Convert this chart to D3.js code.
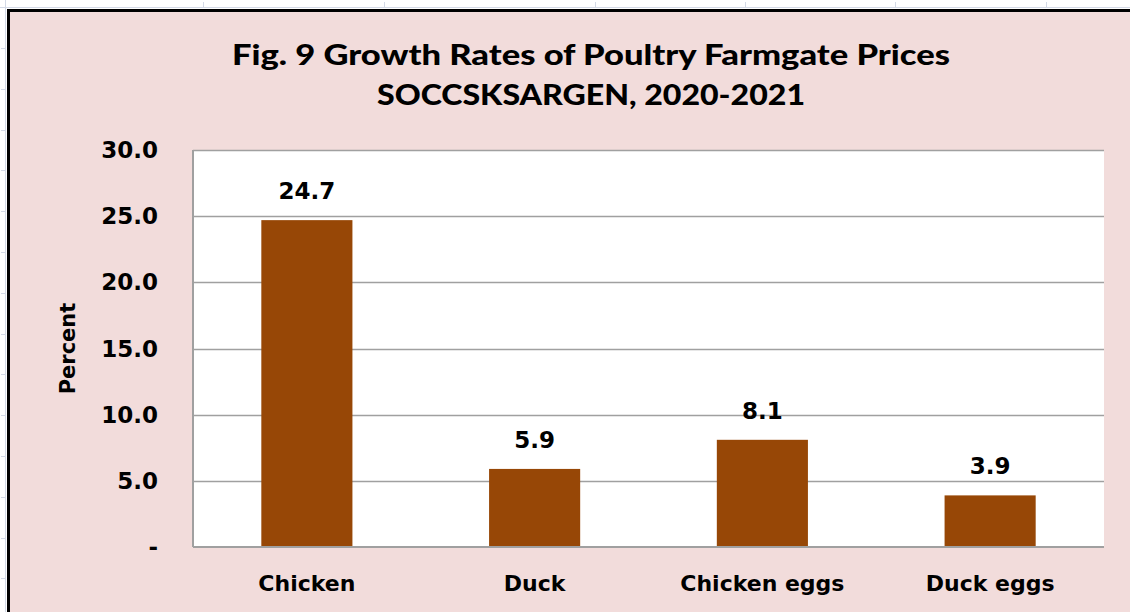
<!DOCTYPE html>
<html>
<head>
<meta charset="utf-8">
<script src="https://cdn.jsdelivr.net/npm/d3@7"></script>
<style>
  html, body { margin: 0; padding: 0; background: #fff; overflow: hidden; }
  text { font-family: "DejaVu Sans", sans-serif; font-weight: bold; fill: #000; }
</style>
</head>
<body>
<div id="chart"></div>
<script>
const categories = ['Chicken', 'Duck', 'Chicken eggs', 'Duck eggs'];
const growthRates = [24.7, 5.9, 8.1, 3.9];
const yTicks = [0, 5, 10, 15, 20, 25, 30];
const titleLines = ['Fig. 9 Growth Rates of Poultry Farmgate Prices', 'SOCCSKSARGEN, 2020-2021'];

const W = 1130, H = 612;
const plot = { left: 193, right: 1104, top: 150, bottom: 547 };
const titleWidths = [718, 428];

const svg = d3.select('#chart').append('svg')
  .attr('width', W)
  .attr('height', H);

// spreadsheet cell marks behind the chart
const sheet = svg.append('g').attr('stroke', '#d3d9e6').attr('stroke-width', 1);
sheet.append('line').attr('x1', 0).attr('x2', W).attr('y1', 7.5).attr('y2', 7.5);
sheet.append('line').attr('x1', 5.5).attr('x2', 5.5).attr('y1', 0).attr('y2', H);
[203, 384, 595, 745, 895, 1046].forEach(x => {
  sheet.append('line').attr('x1', x + 0.5).attr('x2', x + 0.5).attr('y1', 2).attr('y2', 8);
});
d3.range(48, H, 40.8).forEach(y => {
  sheet.append('line').attr('x1', 1).attr('x2', 6).attr('y1', Math.round(y) + 0.5).attr('y2', Math.round(y) + 0.5);
});

// chart area
svg.append('rect')
  .attr('x', 8.5).attr('y', 10.5)
  .attr('width', W + 20).attr('height', H + 20)
  .attr('fill', '#f2dcdb')
  .attr('stroke', '#000')
  .attr('stroke-width', 3);

// plot area
svg.append('rect')
  .attr('x', plot.left).attr('y', plot.top)
  .attr('width', plot.right - plot.left).attr('height', plot.bottom - plot.top)
  .attr('fill', '#fff');

const x = d3.scaleBand()
  .domain(categories)
  .range([plot.left, plot.right])
  .paddingInner(0.6)
  .paddingOuter(0.3);

const y = d3.scaleLinear()
  .domain([0, 30])
  .range([plot.bottom, plot.top]);

// gridlines
svg.append('g')
  .selectAll('line')
  .data(yTicks.filter(d => d > 0))
  .enter().append('line')
  .attr('x1', plot.left).attr('x2', plot.right)
  .attr('y1', d => Math.round(y(d)) + 0.5)
  .attr('y2', d => Math.round(y(d)) + 0.5)
  .attr('stroke', '#a0a0a0')
  .attr('stroke-width', 1.5);

// bars
svg.append('g')
  .selectAll('rect')
  .data(growthRates)
  .enter().append('rect')
  .attr('x', (d, i) => x(categories[i]))
  .attr('y', d => y(d))
  .attr('width', x.bandwidth())
  .attr('height', d => y(0) - y(d))
  .attr('fill', '#974706');

// axis lines
const axisG = svg.append('g').attr('stroke', '#a0a0a0').attr('stroke-width', 2);
axisG.append('line').attr('x1', plot.left).attr('x2', plot.left).attr('y1', plot.top).attr('y2', plot.bottom);
axisG.append('line').attr('x1', plot.left).attr('x2', plot.right).attr('y1', plot.bottom).attr('y2', plot.bottom);

// y tick labels
svg.append('g')
  .selectAll('text')
  .data(yTicks)
  .enter().append('text')
  .attr('x', 158)
  .attr('y', d => y(d) + 8)
  .attr('text-anchor', 'end')
  .style('font-size', '23px')
  .text(d => d === 0 ? '-' : d.toFixed(1));

// category labels
svg.append('g')
  .selectAll('text')
  .data(categories)
  .enter().append('text')
  .attr('x', d => x(d) + x.bandwidth() / 2)
  .attr('y', 591)
  .attr('text-anchor', 'middle')
  .style('font-size', '22px')
  .text(d => d);

// value labels
svg.append('g')
  .selectAll('text')
  .data(growthRates)
  .enter().append('text')
  .attr('x', (d, i) => x(categories[i]) + x.bandwidth() / 2)
  .attr('y', d => y(d) - 21)
  .attr('text-anchor', 'middle')
  .style('font-size', '23px')
  .text(d => d.toFixed(1));

// y axis title
svg.append('text')
  .attr('transform', `translate(75, ${(plot.top + plot.bottom) / 2}) rotate(-90)`)
  .attr('text-anchor', 'middle')
  .style('font-size', '21px')
  .text('Percent');

// title
svg.append('g')
  .selectAll('text')
  .data(titleLines)
  .enter().append('text')
  .attr('x', 591)
  .attr('y', (d, i) => 65 + i * 40)
  .attr('text-anchor', 'middle')
  .attr('textLength', (d, i) => titleWidths[i])
  .attr('lengthAdjust', 'spacingAndGlyphs')
  .style('font-family', 'Lato, sans-serif')
  .style('font-weight', 900)
  .style('font-size', '28px')
  .text(d => d);
</script>
</body>
</html>
